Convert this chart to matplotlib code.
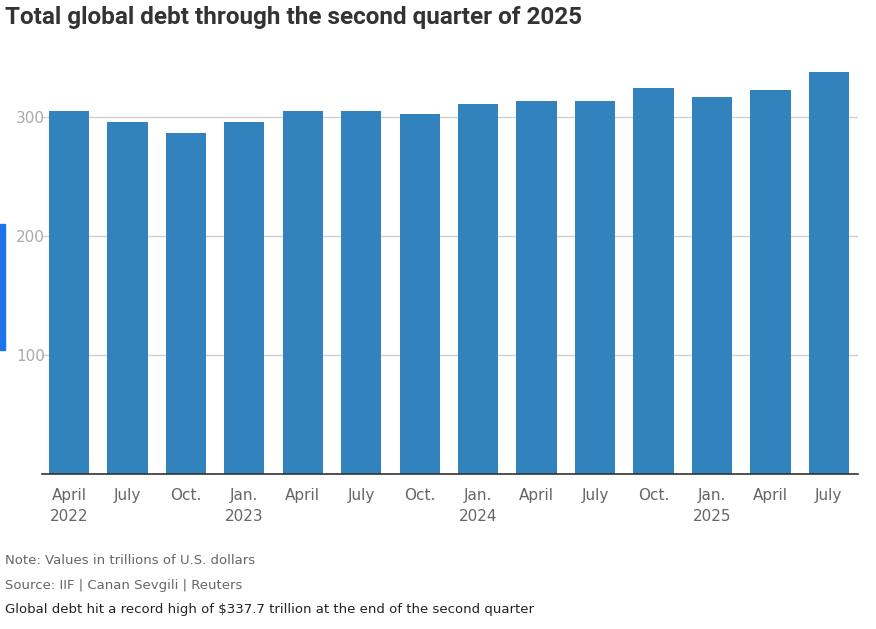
import matplotlib
matplotlib.use("Agg")
import matplotlib.pyplot as plt
from matplotlib.patches import Rectangle

# Values in trillions of U.S. dollars, quarterly
months = ["April", "July", "Oct.", "Jan.", "April", "July", "Oct.",
          "Jan.", "April", "July", "Oct.", "Jan.", "April", "July"]
years = ["2022", "", "", "2023", "", "", "", "2024", "", "", "", "2025", "", ""]
debt = [305, 296, 286.5, 296, 305, 305, 302.5, 311, 313.5, 313.5, 324, 317, 323, 337.7]

BLUE = "#3182bd"
GREY = "#666666"

fig = plt.figure(figsize=(8.76, 6.29), dpi=100)
ax = fig.add_axes([0.048, 0.246, 0.931, 0.659])

x = range(len(debt))
ax.bar(x, debt, width=0.69, color=BLUE, zorder=2)
ax.set_xlim(-0.46, len(debt) - 0.51)
ax.set_ylim(0, 348)
ax.set_yticks([100, 200, 300])
ax.yaxis.grid(True, color="#d0d0d0", linewidth=1, zorder=0)
ax.tick_params(axis="y", length=0, labelsize=11, labelcolor="#aaaaaa", pad=-2)
ax.set_xticks(list(x))
labels = [m + ("\n" + y if y else "") for m, y in zip(months, years)]
ax.set_xticklabels(labels, fontsize=11, color=GREY, linespacing=1.5, va="top")
ax.tick_params(axis="x", length=0, pad=10)
for s in ["top", "right", "left"]:
    ax.spines[s].set_visible(False)
ax.spines["bottom"].set_color("#333333")
ax.spines["bottom"].set_linewidth(1.2)

fig.text(0.006, 0.99, "Total global debt through the second quarter of 2025",
         fontsize=17.5, fontweight="bold", color="#333333", va="top", family="Roboto")
fig.patches.append(Rectangle((0, 1 - 350 / 629), 0.006, 126 / 629,
                             transform=fig.transFigure, color="#1a73e8"))
fig.text(0.006, 0.103, "Note: Values in trillions of U.S. dollars", fontsize=9.5, color=GREY)
fig.text(0.006, 0.064, "Source: IIF | Canan Sevgili | Reuters", fontsize=9.5, color=GREY)
fig.text(0.006, 0.026, "Global debt hit a record high of $337.7 trillion at the end of the second quarter",
         fontsize=9.5, color="#222222")

fig.savefig("out.png", dpi=100)
